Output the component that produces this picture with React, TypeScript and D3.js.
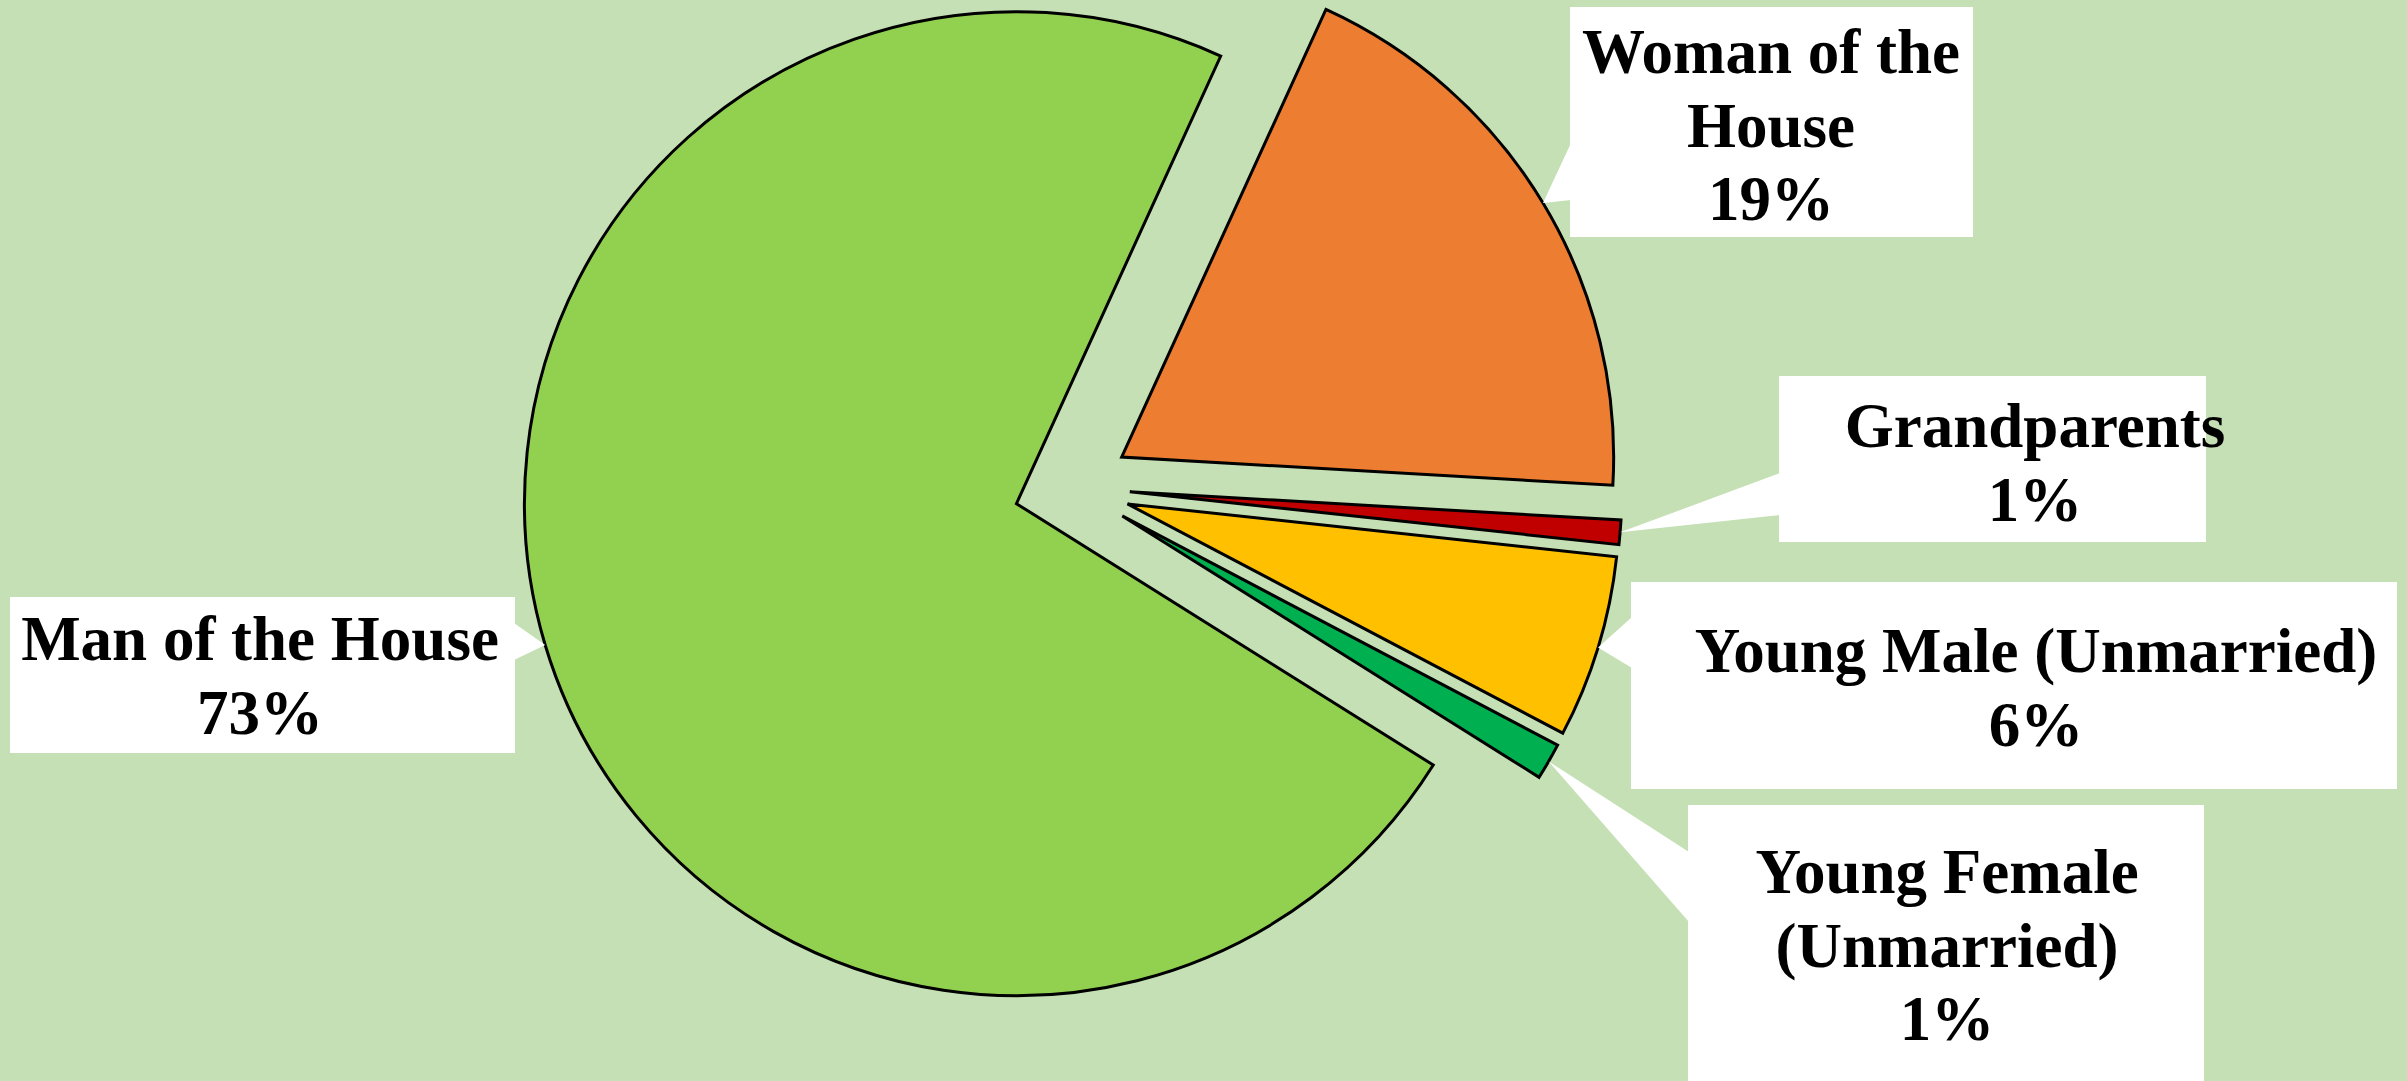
import React from "react";
import * as d3 from "d3";

// ---- data ----
const categories = [
  "Woman of the House",
  "Grandparents",
  "Young Male (Unmarried)",
  "Young Female (Unmarried)",
  "Man of the House",
];
const values = [19.1, 0.8, 6.0, 1.2, 72.9];
const sliceColors = ["#ED7D31", "#C00000", "#FFC000", "#00B050", "#92D050"];
const labelLines = [
  ["Woman of the", "House"],
  ["Grandparents"],
  ["Young Male (Unmarried)"],
  ["Young Female", "(Unmarried)"],
  ["Man of the House"],
];

// ---- layout ----
const W = 2407;
const H = 1081;
const CX = 1072;
const CY = 487;
const R = 492;
const EXPLODE = 58;
const FIRST_ANGLE_DEG = 24.53;
const FONT_SIZE = 63;
const LINE_H = 73.5;
const BG = "#C5E0B4";

// label boxes: rect, text centre, first baseline, pointer base (on box edge)
const labelBoxes = [
  { x: 1570, y: 7, w: 403, h: 230, tx: 1771, ty: 73, side: "left", p0: 143, p1: 200 },
  { x: 1779, y: 376, w: 427, h: 166, tx: 2035, ty: 447, side: "left", p0: 473, p1: 515 },
  { x: 1631, y: 582, w: 766, h: 207, tx: 2036, ty: 672, side: "left", p0: 617, p1: 668 },
  { x: 1688, y: 805, w: 516, h: 290, tx: 1947, ty: 893, side: "left", p0: 852, p1: 922 },
  { x: 10, y: 597, w: 505, h: 156, tx: 260, ty: 660, side: "right", p0: 623, p1: 660 },
];

export default function App() {
  const total = d3.sum(values);
  const a0 = (FIRST_ANGLE_DEG * Math.PI) / 180;
  const pie = d3
    .pie<number>()
    .sort(null)
    .value((d) => d)
    .startAngle(a0)
    .endAngle(a0 + 2 * Math.PI);
  const arcs = pie(values);
  const arcGen = d3.arc<d3.PieArcDatum<number>>().innerRadius(0).outerRadius(R);

  const slices = arcs.map((a, i) => {
    const mid = (a.startAngle + a.endAngle) / 2;
    const ox = CX + EXPLODE * Math.sin(mid);
    const oy = CY - EXPLODE * Math.cos(mid);
    const tipX = ox + R * Math.sin(mid);
    const tipY = oy - R * Math.cos(mid);
    return { a, i, ox, oy, tipX, tipY };
  });

  return (
    <div style={{ position: "fixed", left: 0, top: 0, width: W, height: H }}>
      <svg width={W} height={H} style={{ display: "block" }}>
        <rect x={0} y={0} width={W} height={H} fill={BG} />
        {slices.map((s) => (
          <path
            key={categories[s.i]}
            d={arcGen(s.a) || ""}
            transform={`translate(${s.ox},${s.oy})`}
            fill={sliceColors[s.i]}
            stroke="#000"
            strokeWidth={3}
            strokeLinejoin="miter"
          />
        ))}
        {slices.map((s) => {
          const b = labelBoxes[s.i];
          const ex = b.side === "left" ? b.x + 1 : b.x + b.w - 1;
          const pct = Math.round((values[s.i] / total) * 100) + "%";
          const lines = [...labelLines[s.i], pct];
          return (
            <g key={"lab" + s.i}>
              <polygon
                points={`${ex},${b.p0} ${s.tipX},${s.tipY} ${ex},${b.p1}`}
                fill="#fff"
              />
              <rect x={b.x} y={b.y} width={b.w} height={b.h} fill="#fff" />
              <text
                fontFamily="'Liberation Serif', 'Times New Roman', serif"
                fontWeight="bold"
                fontSize={FONT_SIZE}
                textAnchor="middle"
                fill="#000"
              >
                {lines.map((l, k) => (
                  <tspan key={k} x={b.tx} y={b.ty + k * LINE_H}>
                    {l}
                  </tspan>
                ))}
              </text>
            </g>
          );
        })}
      </svg>
    </div>
  );
}
